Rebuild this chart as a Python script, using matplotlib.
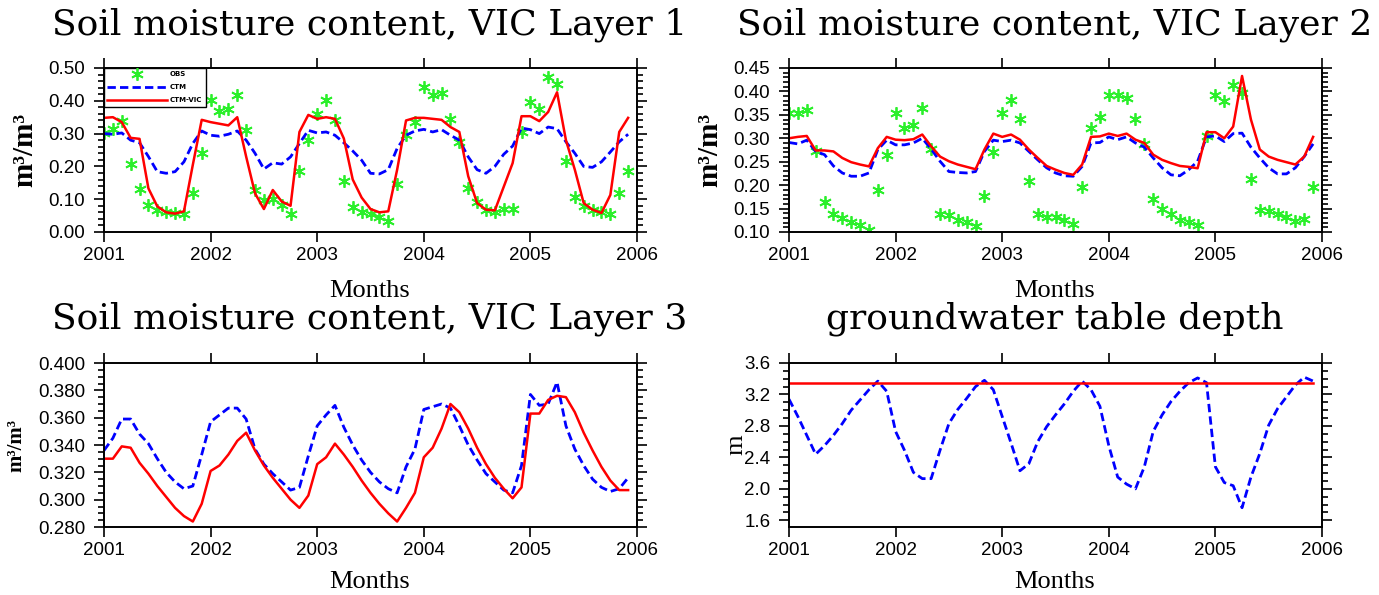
import numpy as np
import matplotlib.pyplot as plt
from matplotlib.ticker import MultipleLocator, FormatStrFormatter

# monthly values, Jan 2001 .. Dec 2005
months = np.arange(60)
year_ticks = [0, 12, 24, 36, 48, 60]
year_labels = ['2001', '2002', '2003', '2004', '2005', '2006']

l1_obs = [0.302, 0.315, 0.337, 0.206, 0.132, 0.081, 0.066, 0.060, 0.058, 0.055, 0.118, 0.240,
          0.403, 0.369, 0.376, 0.418, 0.310, 0.128, 0.098, 0.100, 0.081, 0.056, 0.186, 0.282,
          0.360, 0.403, 0.340, 0.155, 0.075, 0.062, 0.056, 0.045, 0.035, 0.145, 0.295, 0.335,
          0.441, 0.418, 0.424, 0.345, 0.275, 0.133, 0.090, 0.068, 0.060, 0.070, 0.070, 0.305,
          0.396, 0.376, 0.472, 0.450, 0.217, 0.106, 0.078, 0.066, 0.060, 0.056, 0.118, 0.187]
l1_ctm = [0.300, 0.298, 0.302, 0.280, 0.272, 0.230, 0.184, 0.179, 0.184, 0.214, 0.270, 0.308,
          0.295, 0.292, 0.298, 0.308, 0.280, 0.240, 0.192, 0.211, 0.207, 0.229, 0.270, 0.310,
          0.302, 0.305, 0.295, 0.272, 0.247, 0.219, 0.179, 0.177, 0.190, 0.255, 0.295, 0.308,
          0.313, 0.305, 0.312, 0.295, 0.280, 0.229, 0.190, 0.179, 0.200, 0.237, 0.262, 0.317,
          0.312, 0.300, 0.320, 0.315, 0.275, 0.240, 0.200, 0.197, 0.214, 0.244, 0.275, 0.298]
l1_vic = [0.348, 0.350, 0.335, 0.287, 0.284, 0.133, 0.078, 0.060, 0.056, 0.063, 0.205, 0.342,
          0.335, 0.330, 0.325, 0.350, 0.230, 0.118, 0.070, 0.128, 0.093, 0.080, 0.305, 0.357,
          0.345, 0.350, 0.345, 0.285, 0.160, 0.105, 0.070, 0.060, 0.063, 0.190, 0.340, 0.348,
          0.348, 0.345, 0.342, 0.320, 0.305, 0.170, 0.088, 0.068, 0.066, 0.138, 0.210, 0.353,
          0.353, 0.338, 0.366, 0.426, 0.280, 0.190, 0.088, 0.068, 0.058, 0.113, 0.305, 0.348]

l2_obs = [0.354, 0.354, 0.361, 0.272, 0.165, 0.139, 0.130, 0.121, 0.116, 0.105, 0.189, 0.265,
          0.354, 0.322, 0.329, 0.365, 0.277, 0.139, 0.137, 0.126, 0.121, 0.112, 0.176, 0.270,
          0.354, 0.382, 0.341, 0.208, 0.139, 0.133, 0.132, 0.125, 0.118, 0.196, 0.322, 0.345,
          0.393, 0.393, 0.386, 0.341, 0.288, 0.170, 0.149, 0.139, 0.126, 0.121, 0.114, 0.305,
          0.393, 0.379, 0.414, 0.397, 0.213, 0.146, 0.144, 0.139, 0.133, 0.123, 0.128, 0.196]
l2_ctm = [0.291, 0.288, 0.296, 0.272, 0.265, 0.241, 0.226, 0.219, 0.219, 0.226, 0.276, 0.296,
          0.286, 0.286, 0.290, 0.300, 0.277, 0.251, 0.229, 0.227, 0.226, 0.229, 0.272, 0.296,
          0.293, 0.296, 0.290, 0.272, 0.254, 0.237, 0.226, 0.220, 0.219, 0.240, 0.290, 0.291,
          0.303, 0.297, 0.303, 0.290, 0.281, 0.258, 0.237, 0.222, 0.220, 0.233, 0.251, 0.303,
          0.305, 0.293, 0.310, 0.311, 0.281, 0.258, 0.237, 0.224, 0.224, 0.237, 0.261, 0.288]
l2_vic = [0.300, 0.303, 0.305, 0.274, 0.274, 0.272, 0.258, 0.249, 0.244, 0.240, 0.279, 0.303,
          0.297, 0.296, 0.298, 0.308, 0.283, 0.261, 0.251, 0.244, 0.239, 0.234, 0.276, 0.310,
          0.303, 0.308, 0.297, 0.276, 0.258, 0.241, 0.233, 0.226, 0.222, 0.244, 0.303, 0.304,
          0.310, 0.305, 0.310, 0.297, 0.290, 0.265, 0.254, 0.247, 0.241, 0.239, 0.236, 0.313,
          0.313, 0.300, 0.325, 0.433, 0.340, 0.276, 0.261, 0.254, 0.249, 0.244, 0.261, 0.303]

l3_ctm = [0.336, 0.345, 0.359, 0.359, 0.348, 0.341, 0.330, 0.320, 0.313, 0.308, 0.310, 0.333,
          0.357, 0.362, 0.367, 0.367, 0.359, 0.337, 0.326, 0.319, 0.313, 0.307, 0.309, 0.332,
          0.354, 0.362, 0.369, 0.353, 0.340, 0.329, 0.320, 0.313, 0.308, 0.305, 0.324, 0.337,
          0.366, 0.368, 0.370, 0.367, 0.354, 0.340, 0.329, 0.319, 0.313, 0.307, 0.305, 0.325,
          0.377, 0.369, 0.370, 0.386, 0.354, 0.337, 0.325, 0.315, 0.309, 0.306, 0.308, 0.316]
l3_vic = [0.330, 0.330, 0.339, 0.338, 0.327, 0.319, 0.310, 0.302, 0.294, 0.288, 0.284, 0.297,
          0.321, 0.325, 0.333, 0.343, 0.349, 0.336, 0.325, 0.316, 0.308, 0.300, 0.294, 0.303,
          0.326, 0.331, 0.341, 0.333, 0.324, 0.314, 0.305, 0.297, 0.290, 0.284, 0.294, 0.305,
          0.331, 0.338, 0.352, 0.370, 0.364, 0.352, 0.338, 0.326, 0.316, 0.308, 0.301, 0.309,
          0.363, 0.363, 0.373, 0.376, 0.375, 0.364, 0.349, 0.336, 0.324, 0.314, 0.307, 0.307]

gw_ctm = [3.14, 2.92, 2.68, 2.44, 2.55, 2.68, 2.83, 3.00, 3.13, 3.26, 3.37, 3.24,
          2.73, 2.49, 2.21, 2.13, 2.13, 2.49, 2.83, 3.01, 3.15, 3.30, 3.38, 3.26,
          2.92, 2.58, 2.23, 2.32, 2.60, 2.79, 2.94, 3.08, 3.24, 3.37, 3.26, 3.05,
          2.55, 2.15, 2.06, 2.00, 2.28, 2.73, 2.94, 3.11, 3.24, 3.35, 3.41, 3.35,
          2.28, 2.08, 2.04, 1.76, 2.15, 2.45, 2.81, 3.02, 3.17, 3.32, 3.42, 3.37]
gw_vic = [3.35, 3.35, 3.35, 3.35, 3.35, 3.35, 3.35, 3.35, 3.35, 3.35, 3.35, 3.35,
          3.35, 3.35, 3.35, 3.35, 3.35, 3.35, 3.35, 3.35, 3.35, 3.35, 3.35, 3.35,
          3.35, 3.35, 3.35, 3.35, 3.35, 3.35, 3.35, 3.35, 3.35, 3.35, 3.35, 3.35,
          3.35, 3.35, 3.35, 3.35, 3.35, 3.35, 3.35, 3.35, 3.35, 3.35, 3.35, 3.35,
          3.35, 3.35, 3.35, 3.35, 3.35, 3.35, 3.35, 3.35, 3.35, 3.35, 3.35, 3.35]

W, H = 1379, 595
SERIF = 'Liberation Serif'
SANS = 'Liberation Sans'
GREEN = '#2bef2b'

fig = plt.figure(figsize=(W / 100, H / 100), dpi=100)


def px_axes(left, top, right, bottom):
    return fig.add_axes([left / W, 1 - bottom / H, (right - left) / W, (bottom - top) / H])


def style(ax, ylim, major, minor, fmt):
    ax.set_xlim(0, 60)
    ax.set_xticks(year_ticks)
    ax.set_xticklabels(year_labels)
    ax.set_ylim(*ylim)
    ax.yaxis.set_major_locator(MultipleLocator(major))
    ax.yaxis.set_minor_locator(MultipleLocator(minor))
    ax.yaxis.set_major_formatter(FormatStrFormatter(fmt))
    ax.tick_params(which='both', direction='out', top=True, right=True,
                   width=1.2, labelsize=13.5)
    ax.tick_params(which='major', length=7.5)
    ax.tick_params(which='minor', length=4)
    ax.tick_params(axis='x', pad=3)
    ax.tick_params(axis='y', pad=6)
    for lab in ax.get_xticklabels() + ax.get_yticklabels():
        lab.set_fontfamily(SANS)
    for sp in ax.spines.values():
        sp.set_linewidth(1.4)


def draw_lines(ax, ctm, vic):
    blue, = ax.plot(months, ctm, color='#0000ff', lw=2.0, dashes=(3, 1.5), label='CTM')
    red, = ax.plot(months, vic, color='#ff0000', lw=1.8, label='CTM-VIC')
    return blue, red


def obs_points(ax, obs):
    return ax.plot(months, obs, linestyle='none', marker=(6, 2, 0), ms=9,
                   mew=1.3, color=GREEN, label='OBS')[0]


ax1 = px_axes(104, 68, 637, 232)
ax2 = px_axes(789, 68, 1322, 232)
ax3 = px_axes(104, 363, 637, 527)
ax4 = px_axes(789, 363, 1322, 527)

# Layer 1
g = obs_points(ax1, l1_obs)
b, r = draw_lines(ax1, l1_ctm, l1_vic)
style(ax1, (0, 0.5), 0.1, 0.02, '%.2f')
leg = ax1.legend(handles=[g, b, r], loc='upper left', bbox_to_anchor=(0, 1),
                 borderaxespad=0, fontsize=5, handlelength=8.5, labelspacing=1.0,
                 borderpad=0.5, handletextpad=0.5, numpoints=1, fancybox=False,
                 edgecolor='black', framealpha=1)
leg.get_frame().set_linewidth(1.0)
for t in leg.get_texts():
    t.set_fontweight('bold')

# Layer 2
obs_points(ax2, l2_obs)
draw_lines(ax2, l2_ctm, l2_vic)
style(ax2, (0.1, 0.45), 0.05, 0.01, '%.2f')

# Layer 3
draw_lines(ax3, l3_ctm, l3_vic)
style(ax3, (0.28, 0.40), 0.02, 0.005, '%.3f')

# groundwater
draw_lines(ax4, gw_ctm, gw_vic)
style(ax4, (1.515, 3.6), 0.4, 0.1, '%.1f')

# titles, centred over each panel
for cx, cy, txt in [(370, 34, 'Soil moisture content, VIC Layer 1'),
                    (1055, 34, 'Soil moisture content, VIC Layer 2'),
                    (370, 329, 'Soil moisture content, VIC Layer 3'),
                    (1055, 329, 'groundwater table depth')]:
    fig.text(cx / W, 1 - cy / H, txt, ha='center', va='baseline',
             fontsize=26, family='DejaVu Serif', fontweight='light')

# x labels
for cx, cy in [(370, 297), (1055, 297), (370, 588), (1055, 588)]:
    fig.text(cx / W, 1 - cy / H, 'Months', ha='center', va='baseline',
             fontsize=19, family=SERIF)

# y labels
for cx, cy, txt, fs, fw in [(25, 150, 'm³/m³', 21, 'bold'),
                            (710, 150, 'm³/m³', 21, 'bold'),
                            (16, 445, 'm³/m³', 15, 'bold'),
                            (736, 445, 'm', 19, 'normal')]:
    fig.text(cx / W, 1 - cy / H, txt, ha='center', va='center', rotation=90,
             fontsize=fs, fontweight=fw, family=SERIF)

fig.savefig('out.png', dpi=100)
